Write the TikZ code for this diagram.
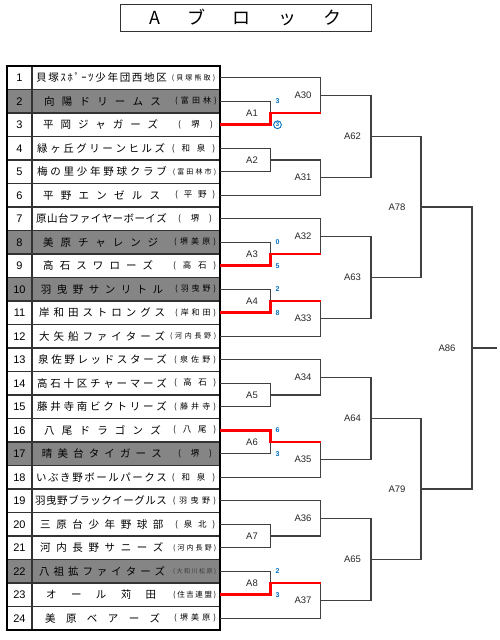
\documentclass[tikz,border=0pt]{standalone}
\usepackage{fontspec}
\setmainfont{Liberation Sans}
\newfontfamily\jp{Noto Sans CJK JP}
\usetikzlibrary{calc}
\definecolor{brkcol}{HTML}{404040}
\definecolor{scoreblue}{HTML}{0070C0}
\definecolor{rowgray}{HTML}{858585}
\definecolor{winred}{HTML}{FF0000}
\def\sprA#1{#1\sprB}
\def\sprB#1{\ifx#1\relax\else\hfil#1\expandafter\sprB\fi}
\newcommand\spreadbox[2]{\hbox to #1{\sprA#2\relax}}
\newcommand\team[9]{%
  \node[anchor=west,inner sep=0pt] (n#1) at (#2,{54.25+23.5*#1}) {\jp\fontsize{10.5}{12}\selectfont\spreadbox{#3pt}{#4}};
  \node[anchor=west,inner sep=0pt,text=#9] (c#1) at (#5,{54.25+23.5*#1}) {\jp\fontsize{#7}{#7}\selectfont\spreadbox{#6pt}{#8}};}
\begin{document}
\begin{tikzpicture}[x=1pt,y=-1pt,
  brk/.style={draw=brkcol,line width=1.1pt},
  win/.style={draw=winred,line width=2.6pt},
  mlabel/.style={inner sep=0pt,font=\fontsize{9.5}{10}\selectfont,text=black!85},
  score/.style={inner sep=0pt,font=\bfseries\fontsize{7}{8}\selectfont,text=scoreblue},
  numtext/.style={inner sep=0pt,font=\fontsize{11}{12}\selectfont},
  rowline/.style={draw=black!80,line width=1.2pt},
  outerline/.style={draw=black,line width=1.8pt}]
\useasboundingbox (0,0) rectangle (500,640);
% title
\node[draw=black!80,line width=1pt,minimum width=251pt,minimum height=27pt,inner sep=0pt] (title) at (245.5,17.5)
  {\jp\fontsize{18}{20}\selectfont\spreadbox{192pt}{Aブロック}};
% table
\foreach \i in {2,8,10,17,22} \fill[rowgray] (7,{42.5+23.5*\i}) rectangle (220,{66+23.5*\i});
\foreach \i in {1,...,23} \draw[rowline] (7,{66+23.5*\i}) -- (220,{66+23.5*\i});
\draw[rowline] (32,66) -- (32,630);
\draw[outerline] (7,66) rectangle (220,630);
\foreach \i in {1,...,24} {
  \node[numtext] (r\i) at (19.5,{54.25+23.5*\i}) {\i};
  \coordinate (t\i) at (220,{54.25+23.5*\i});
}
\team{1}{36}{130.7}{貝塚ｽﾎﾟｰﾂ少年団西地区}{171.7}{43.3}{7}{(貝塚熊取)}{black}
\team{2}{44}{116.7}{向陽ドリームス}{175}{41.7}{8}{(富田林)}{black}
\team{3}{43}{115}{平岡ジャガーズ}{178}{34.7}{8.5}{(堺)}{black}
\team{4}{37}{128}{緑ヶ丘グリーンヒルズ}{171.7}{43.3}{8.5}{(和泉)}{black}
\team{5}{37}{129.7}{梅の里少年野球クラブ}{172.7}{43.3}{7}{(富田林市)}{black}
\team{6}{43}{117}{平野エンゼルス}{175}{40}{8.5}{(平野)}{black}
\team{7}{36}{130.7}{原山台ファイヤーボーイズ}{178}{33.7}{8.5}{(堺)}{black}
\team{8}{43}{115}{美原チャレンジ}{174}{42}{8}{(堺美原)}{black}
\team{9}{43}{110}{高石スワローズ}{173}{43}{8.5}{(高石)}{black}
\team{10}{40.7}{122.3}{羽曳野サンリトル}{175}{41}{8}{(羽曳野)}{black}
\team{11}{39}{126}{岸和田ストロングス}{175}{41}{8}{(岸和田)}{black}
\team{12}{39}{126}{大矢船ファイターズ}{170}{46}{7}{(河内長野)}{black}
\team{13}{38}{128.7}{泉佐野レッドスターズ}{174}{42}{8}{(泉佐野)}{black}
\team{14}{37}{129.7}{高石十区チャーマーズ}{174}{42}{8.5}{(高石)}{black}
\team{15}{37}{129.7}{藤井寺南ビクトリーズ}{174}{42}{8}{(藤井寺)}{black}
\team{16}{44}{116.7}{八尾ドラゴンズ}{173}{43}{8.5}{(八尾)}{black}
\team{17}{41.7}{120}{晴美台タイガース}{178}{33.7}{8.5}{(堺)}{black}
\team{18}{36}{130.7}{いぶき野ボールパークス}{171.7}{43.3}{8.5}{(和泉)}{black}
\team{19}{35}{131.7}{羽曳野ブラックイーグルス}{172.7}{43.3}{8}{(羽曳野)}{black}
\team{20}{40}{123.3}{三原台少年野球部}{175}{40}{8.5}{(泉北)}{black}
\team{21}{40}{123.3}{河内長野サニーズ}{173}{43}{7}{(河内長野)}{black}
\team{22}{39}{126}{八祖拡ファイターズ}{173}{43}{6}{(大和川松原)}{black!78}
\team{23}{46}{110}{オール苅田}{173}{43}{7.5}{(住吉連盟)}{black}
\team{24}{45}{115}{美原ベアーズ}{174}{42}{8}{(堺美原)}{black}
% match points
\coordinate (A1) at (270.5,113);
\coordinate (A2) at (270.5,160);
\coordinate (A3) at (270.5,254);
\coordinate (A4) at (270.5,301);
\coordinate (A5) at (270.5,395);
\coordinate (A6) at (270.5,442);
\coordinate (A7) at (270.5,536);
\coordinate (A8) at (270.5,583);
\coordinate (A30) at (320.5,95.375);
\coordinate (A31) at (320.5,177.625);
\coordinate (A32) at (320.5,236.375);
\coordinate (A33) at (320.5,318.625);
\coordinate (A34) at (320.5,377.375);
\coordinate (A35) at (320.5,459.625);
\coordinate (A36) at (320.5,518.375);
\coordinate (A37) at (320.5,600.625);
\coordinate (A62) at (371,136.5);
\coordinate (A63) at (371,277.5);
\coordinate (A64) at (371,418.5);
\coordinate (A65) at (371,559.5);
\coordinate (A78) at (421,207);
\coordinate (A79) at (421,489);
\coordinate (A86) at (472,348);
\coordinate (fin) at (497,348);
% brackets
\draw[brk] (t2) -| (A1) |- (t3);
\draw[brk] (t4) -| (A2) |- (t5);
\draw[brk] (t8) -| (A3) |- (t9);
\draw[brk] (t10) -| (A4) |- (t11);
\draw[brk] (t14) -| (A5) |- (t15);
\draw[brk] (t16) -| (A6) |- (t17);
\draw[brk] (t20) -| (A7) |- (t21);
\draw[brk] (t22) -| (A8) |- (t23);
\draw[brk] (t1) -| (A30) |- (A1);
\draw[brk] (A2) -| (A31) |- (t6);
\draw[brk] (t7) -| (A32) |- (A3);
\draw[brk] (A4) -| (A33) |- (t12);
\draw[brk] (t13) -| (A34) |- (A5);
\draw[brk] (A6) -| (A35) |- (t18);
\draw[brk] (t19) -| (A36) |- (A7);
\draw[brk] (A8) -| (A37) |- (t24);
\draw[brk] (A30) -| (A62) |- (A31);
\draw[brk] (A32) -| (A63) |- (A33);
\draw[brk] (A34) -| (A64) |- (A35);
\draw[brk] (A36) -| (A65) |- (A37);
\draw[brk] (A62) -| (A78) |- (A63);
\draw[brk] (A64) -| (A79) |- (A65);
\draw[brk] (A78) -| (A86) |- (A79);
\draw[brk] (A86) -- (fin);
% winners
\draw[win] (t3) -| (A1) -- (A1 -| A30);
\draw[win] (t9) -| (A3) -- (A3 -| A32);
\draw[win] (t11) -| (A4) -- (A4 -| A33);
\draw[win] (t16) -| (A6) -- (A6 -| A35);
\draw[win] (t23) -| (A8) -- (A8 -| A37);
% labels
\foreach \m/\yy in {1/113,2/160,3/254,4/301,5/395,6/442,7/536,8/583}
  \node[mlabel] (lA\m) at (252,\yy) {A\m};
\foreach \m/\yy in {30/95.375,31/177.625,32/236.375,33/318.625,34/377.375,35/459.625,36/518.375,37/600.625}
  \node[mlabel] (lA\m) at (303,\yy) {A\m};
\foreach \m/\yy in {62/136.5,63/277.5,64/418.5,65/559.5}
  \node[mlabel] (lA\m) at (352.5,\yy) {A\m};
\node[mlabel] (lA78) at (397,207) {A78};
\node[mlabel] (lA79) at (397,489) {A79};
\node[mlabel] (lA86) at (447,348) {A86};
% scores
\node[score] (s2) at (277.5,101.25) {3};
\node[score,circle,draw=scoreblue,line width=0.9pt,inner sep=0.7pt,font=\bfseries\fontsize{6.5}{7}\selectfont] (s3) at (277.5,124.75) {3};
\node[score] (s8) at (277.5,242.25) {0};
\node[score] (s9) at (277.5,265.75) {5};
\node[score] (s10) at (277.5,289.25) {2};
\node[score] (s11) at (277.5,312.75) {8};
\node[score] (s16) at (277.5,430.25) {6};
\node[score] (s17) at (277.5,453.75) {3};
\node[score] (s22) at (277.5,571.25) {2};
\node[score] (s23) at (277.5,594.75) {3};
\end{tikzpicture}
\end{document}
